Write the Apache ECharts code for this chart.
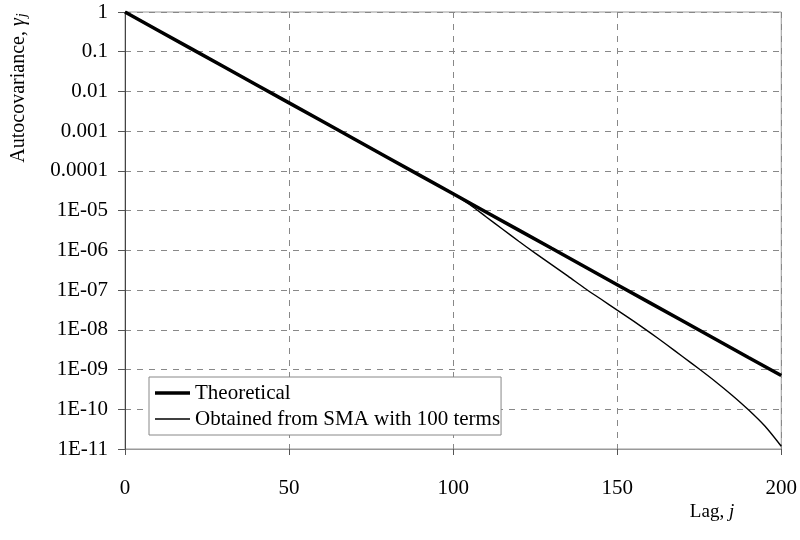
<!DOCTYPE html>
<html>
<head>
<meta charset="utf-8">
<script src="https://cdn.jsdelivr.net/npm/echarts@6/dist/echarts.min.js"></script>
<style>html,body{margin:0;padding:0;background:#fff}#c{width:800px;height:540px}</style>
</head>
<body>
<div id="c"></div>
<script>
var lagsTheo = [0,10,20,30,40,50,60,70,80,90,100,110,120,130,140,150,160,170,180,190,200];
var theoretical = [1,0.3487,0.1216,0.04239,0.01478,0.005154,0.001797,6.266e-4,2.185e-4,7.618e-5,2.656e-5,9.26e-6,3.23e-6,1.126e-6,3.93e-7,1.369e-7,4.77e-8,1.664e-8,5.80e-9,2.02e-9,7.06e-10];
var lagsSma = [0,10,20,30,40,50,60,70,80,90,100,105,110,115,120,125,130,135,140,145,150,155,160,165,170,175,180,185,190,195,200];
var smaValues = [1,0.3487,0.1216,0.04239,0.01478,0.005154,0.001797,6.266e-4,2.185e-4,7.618e-5,2.656e-5,1.43e-5,7.03e-6,3.45e-6,1.695e-6,8.52e-7,4.38e-7,2.25e-7,1.13e-7,5.96e-8,3.13e-8,1.65e-8,8.49e-9,4.27e-9,2.10e-9,1.03e-9,4.94e-10,2.26e-10,9.7e-11,3.78e-11,1.17e-11];
var yTickLabels = ['1','0.1','0.01','0.001','0.0001','1E-05','1E-06','1E-07','1E-08','1E-09','1E-10','1E-11'];
var xTicks = [0,50,100,150,200];
var seriesNames = ['Theoretical','Obtained from SMA with 100 terms'];

var FONT = 'Liberation Serif';
function pairs(xs, ys){ return xs.map(function(x,i){ return [x, ys[i]]; }); }

var chart = echarts.init(document.getElementById('c'), null, {renderer:'canvas'});
chart.setOption({
  animation:false,
  backgroundColor:'#fff',
  textStyle:{fontFamily:FONT, color:'#000'},
  grid:{left:125, right:17, top:12, bottom:91, show:true, borderColor:'#999', borderWidth:1, backgroundColor:'transparent'},
  xAxis:{
    type:'value', min:xTicks[0], max:xTicks[xTicks.length-1], interval:50,
    axisLine:{show:true, onZero:false, lineStyle:{color:'#999', width:1}},
    axisTick:{show:true, length:6, lineStyle:{color:'#555'}},
    axisLabel:{fontFamily:FONT, fontSize:21, color:'#000', margin:29},
    splitLine:{show:true, lineStyle:{type:[6,6], color:'#888', width:1}}
  },
  yAxis:{
    type:'log', logBase:10, min:1e-11, max:1, interval:1,
    axisLine:{show:true, lineStyle:{color:'#444', width:1}},
    axisTick:{show:true, length:7, lineStyle:{color:'#555'}},
    axisLabel:{fontFamily:FONT, fontSize:21, color:'#000', margin:17,
      formatter:function(v){ var k = Math.round(-Math.log10(v)); return yTickLabels[k] || ''; }},
    splitLine:{show:true, lineStyle:{type:[6,6], color:'#888', width:1}}
  },
  legend:{
    orient:'vertical', left:149, top:377,
    data:[
      {name:seriesNames[0], icon:'path://M0,0h40v4h-40z'},
      {name:seriesNames[1], icon:'path://M0,0h40v1.6h-40z'}
    ],
    backgroundColor:'#fff', borderColor:'#888', borderWidth:1, borderRadius:0,
    padding:[4,1,4,6], itemGap:2, itemWidth:35, itemHeight:14,
    itemStyle:{color:'#000', borderWidth:0},
    textStyle:{fontFamily:FONT, fontSize:21, color:'#000', padding:[0,0,0,0], lineHeight:24}
  },
  graphic:[
    {type:'text', x:19, y:88, rotation:Math.PI/2, style:{
      text:'Autocovariance, {i|γ}{s|j}', align:'center', verticalAlign:'middle',
      font:'20px "Liberation Serif"', fill:'#000',
      rich:{i:{fontFamily:FONT, fontStyle:'italic', fontSize:20}, s:{fontFamily:FONT, fontStyle:'italic', fontSize:14, verticalAlign:'bottom', padding:[7,0,0,1]}}
    }},
    {type:'text', x:712, y:512, style:{
      text:'Lag, {i|j}', align:'center', verticalAlign:'middle',
      font:'19px "Liberation Serif"', fill:'#000',
      rich:{i:{fontFamily:FONT, fontStyle:'italic', fontSize:19}}
    }}
  ],
  series:[
    {name:seriesNames[0], type:'line', data:pairs(lagsTheo, theoretical), symbol:'none', z:3,
     lineStyle:{color:'#000', width:3.5}, itemStyle:{color:'#000'}},
    {name:seriesNames[1], type:'line', data:pairs(lagsSma, smaValues), symbol:'none', z:4, smooth:0.3,
     lineStyle:{color:'#000', width:1.4}, itemStyle:{color:'#000'}}
  ]
});
</script>
</body>
</html>
